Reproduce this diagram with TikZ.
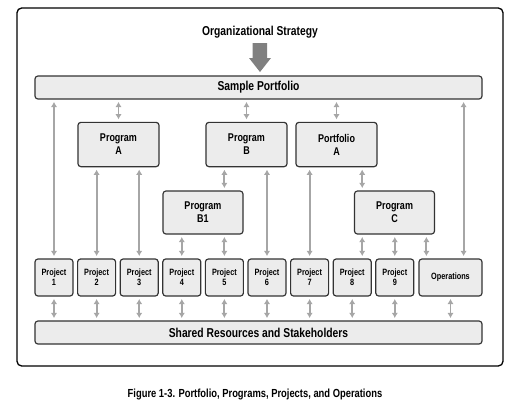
\documentclass[tikz,border=0pt]{standalone}
\usepackage{fontspec}
\setmainfont{Liberation Sans}[FakeStretch=0.8]
\usetikzlibrary{arrows.meta}

\tikzset{
  box/.style={draw=black!80, line width=1pt, fill=gray!15, rounded corners=2.5pt,
    align=center, inner sep=0pt},
  bar/.style={box, minimum width=13.41cm, minimum height=0.69cm,
    font=\fontsize{11}{13}\selectfont\bfseries},
  prog/.style={box, minimum width=2.43cm, minimum height=1.33cm,
    font=\fontsize{9.6}{11}\selectfont\bfseries},
  proj/.style={box, minimum width=1.14cm, minimum height=1.11cm,
    font=\fontsize{7.8}{8.6}\selectfont\bfseries},
  link/.style={draw=gray!70, line width=1.7pt,
    {Latex[length=4.5pt,width=5.5pt]}-{Latex[length=4.5pt,width=5.5pt]},
    shorten >=2pt, shorten <=2pt},
}

\begin{document}
\begin{tikzpicture}[x=0.03cm, y=-0.03cm]
  \useasboundingbox (0,0) rectangle (521,410);
  % frame
  \draw[line width=1.1pt, rounded corners=4pt] (17,8) rectangle (503,366);

  % strategy and big arrow
  \node[font=\fontsize{11}{13}\selectfont\bfseries] (strat) at (260,32) {Organizational Strategy};
  \fill[gray] (252.5,43) -- (267,43) -- (267,58) -- (271,58) -- (260,72)
    -- (249,58) -- (252.5,58) -- cycle;

  % boxes
  \node[bar] (sp) at (258.5,87.5) {Sample Portfolio};
  \node[prog] (pa) at (118.5,144.5) {Program\\A};
  \node[prog] (pb) at (246.5,144.5) {Program\\B};
  \node[prog] (pfa) at (336.5,144.5) {Portfolio\\A};
  \node[prog, minimum width=2.4cm, minimum height=1.29cm] (pb1) at (203,212.5) {Program\\B1};
  \node[prog, minimum width=2.4cm, minimum height=1.29cm] (pc) at (394.5,212.5) {Program\\C};
  \foreach \i/\x in {1/54,2/96.6,3/139.2,4/181.8,5/224.4,6/267,7/309.6,8/352.2,9/394.8}
    \node[proj] (p\i) at (\x,277.5) {Project\\\i};
  \node[proj, minimum width=1.89cm] (ops) at (450.5,277.5) {Operations};
  \node[bar] (sr) at (258.5,332.5) {Shared Resources and Stakeholders};

  % caption
  \node[font=\fontsize{10}{12}\selectfont\bfseries] (cap) at (255,394)
    {Figure 1-3. Portfolio, Programs, Projects, and Operations};

  % offset ends
  \coordinate (c8) at ([xshift=0.3cm]p8.north);
  \coordinate (co) at ([xshift=0.24cm]ops.north west);
  \coordinate (cs) at ([xshift=-0.57cm]ops.north east);

  % links
  \draw[link] (sp.south -| p1) -- (p1.north);
  \draw[link] (sp.south -| pa) -- (pa.north);
  \draw[link] (sp.south -| pb) -- (pb.north);
  \draw[link] (sp.south -| pfa) -- (pfa.north);
  \draw[link] (sp.south -| cs) -- (cs);
  \foreach \p in {p2,p3}
    \draw[link] (pa.south -| \p) -- (\p.north);
  \draw[link] (pb.south -| p5) -- (pb1.north -| p5);
  \draw[link] (pb.south -| p6) -- (p6.north);
  \draw[link] (pfa.south -| p7) -- (p7.north);
  \draw[link] (pfa.south -| c8) -- (pc.north -| c8);
  \draw[link] (pb1.south -| p4) -- (p4.north);
  \draw[link] (pb1.south -| p5) -- (p5.north);
  \draw[link] (pc.south -| c8) -- (c8);
  \draw[link] (pc.south -| p9) -- (p9.north);
  \draw[link] (pc.south -| co) -- (co);
  \foreach \p in {p1,p2,p3,p4,p5,p6,p7,p8,p9,ops}
    \draw[link] (\p.south) -- (sr.north -| \p);
\end{tikzpicture}
\end{document}
